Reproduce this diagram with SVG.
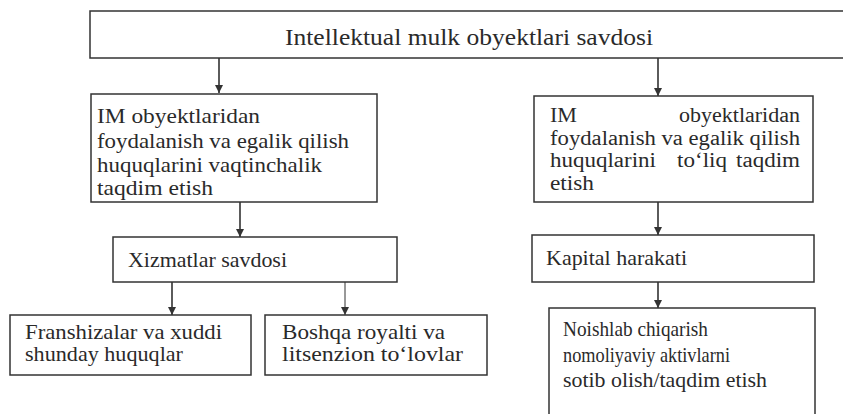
<svg xmlns="http://www.w3.org/2000/svg" width="843" height="414" viewBox="0 0 843 414">
<style>
.box{fill:#fff;stroke:#333;stroke-width:1.5}
.c{stroke:#333;stroke-width:1.6;fill:none}
.thin{stroke-width:1}
</style>
<defs>
<marker id="ah" markerUnits="userSpaceOnUse" markerWidth="9" markerHeight="8" refX="8" refY="4" orient="auto">
<path d="M0,0 L8,4 L0,8 z" fill="#333"/>
</marker>
</defs>
<rect width="843" height="414" fill="#fff"/>
<g id="connectors">
<line class="c" x1="219" y1="58" x2="219" y2="93" marker-end="url(#ah)"/>
<line class="c" x1="658" y1="58" x2="658" y2="96" marker-end="url(#ah)"/>
<line class="c" x1="240" y1="202" x2="240" y2="237" marker-end="url(#ah)"/>
<line class="c" x1="658" y1="202" x2="658" y2="235" marker-end="url(#ah)"/>
<line class="c" x1="172" y1="282" x2="172" y2="315" marker-end="url(#ah)"/>
<line class="c thin" x1="345" y1="282" x2="345" y2="315" marker-end="url(#ah)"/>
<line class="c" x1="658" y1="282" x2="658" y2="308" marker-end="url(#ah)"/>
</g>
<g id="n-top" font-family="Liberation Serif, Times New Roman, serif" font-size="23" fill="#2a2a2a">
<rect class="box" x="90" y="11" width="770" height="47"/>
<text x="285" y="45" textLength="368" lengthAdjust="spacingAndGlyphs">Intellektual mulk obyektlari savdosi</text>
</g>
<g id="n-left2" font-family="Liberation Serif, Times New Roman, serif" font-size="22" fill="#2a2a2a">
<rect class="box" x="91" y="94" width="286" height="108"/>
<text x="97" y="123" textLength="163" lengthAdjust="spacingAndGlyphs">IM obyektlaridan</text>
<text x="97" y="148" textLength="252" lengthAdjust="spacingAndGlyphs">foydalanish va egalik qilish</text>
<text x="97" y="172" textLength="225" lengthAdjust="spacingAndGlyphs">huquqlarini vaqtinchalik</text>
<text x="97" y="195" textLength="116" lengthAdjust="spacingAndGlyphs">taqdim etish</text>
</g>
<g id="n-right2" font-family="Liberation Serif, Times New Roman, serif" font-size="20" fill="#2a2a2a">
<rect class="box" x="534" y="96" width="279" height="106"/>
<text x="550" y="122" textLength="27" lengthAdjust="spacingAndGlyphs">IM</text>
<text x="679" y="122" textLength="121" lengthAdjust="spacingAndGlyphs">obyektlaridan</text>
<text x="550" y="144.5" textLength="250" lengthAdjust="spacingAndGlyphs">foydalanish va egalik qilish</text>
<text x="550" y="167" textLength="106" lengthAdjust="spacingAndGlyphs">huquqlarini</text>
<text x="677" y="167" textLength="50" lengthAdjust="spacingAndGlyphs">to‘liq</text>
<text x="736" y="167" textLength="64" lengthAdjust="spacingAndGlyphs">taqdim</text>
<text x="550" y="190" textLength="44" lengthAdjust="spacingAndGlyphs">etish</text>
</g>
<g id="n-xizmat" font-family="Liberation Serif, Times New Roman, serif" font-size="22" fill="#2a2a2a">
<rect class="box" x="113" y="237" width="284" height="45"/>
<text x="128" y="267" textLength="159" lengthAdjust="spacingAndGlyphs">Xizmatlar savdosi</text>
</g>
<g id="n-kapital" font-family="Liberation Serif, Times New Roman, serif" font-size="22" fill="#2a2a2a">
<rect class="box" x="532" y="235" width="282" height="47"/>
<text x="546" y="265" textLength="141" lengthAdjust="spacingAndGlyphs">Kapital harakati</text>
</g>
<g id="n-fransh" font-family="Liberation Serif, Times New Roman, serif" font-size="21" fill="#2a2a2a">
<rect class="box" x="10" y="315" width="241" height="60"/>
<text x="25" y="339" textLength="197" lengthAdjust="spacingAndGlyphs">Franshizalar va xuddi</text>
<text x="25" y="361" textLength="158" lengthAdjust="spacingAndGlyphs">shunday huquqlar</text>
</g>
<g id="n-boshqa" font-family="Liberation Serif, Times New Roman, serif" font-size="21" fill="#2a2a2a">
<rect class="box" x="265" y="315" width="222" height="60"/>
<text x="282" y="339" textLength="163" lengthAdjust="spacingAndGlyphs">Boshqa royalti va</text>
<text x="282" y="361" textLength="181" lengthAdjust="spacingAndGlyphs">litsenzion to‘lovlar</text>
</g>
<g id="n-noishlab" font-family="Liberation Serif, Times New Roman, serif" font-size="21" fill="#2a2a2a">
<rect class="box" x="549" y="308" width="266" height="112"/>
<text x="563" y="336" textLength="145" lengthAdjust="spacingAndGlyphs">Noishlab chiqarish</text>
<text x="563" y="362" textLength="167" lengthAdjust="spacingAndGlyphs">nomoliyaviy aktivlarni</text>
<text x="563" y="387" textLength="204" lengthAdjust="spacingAndGlyphs">sotib olish/taqdim etish</text>
</g>
</svg>
